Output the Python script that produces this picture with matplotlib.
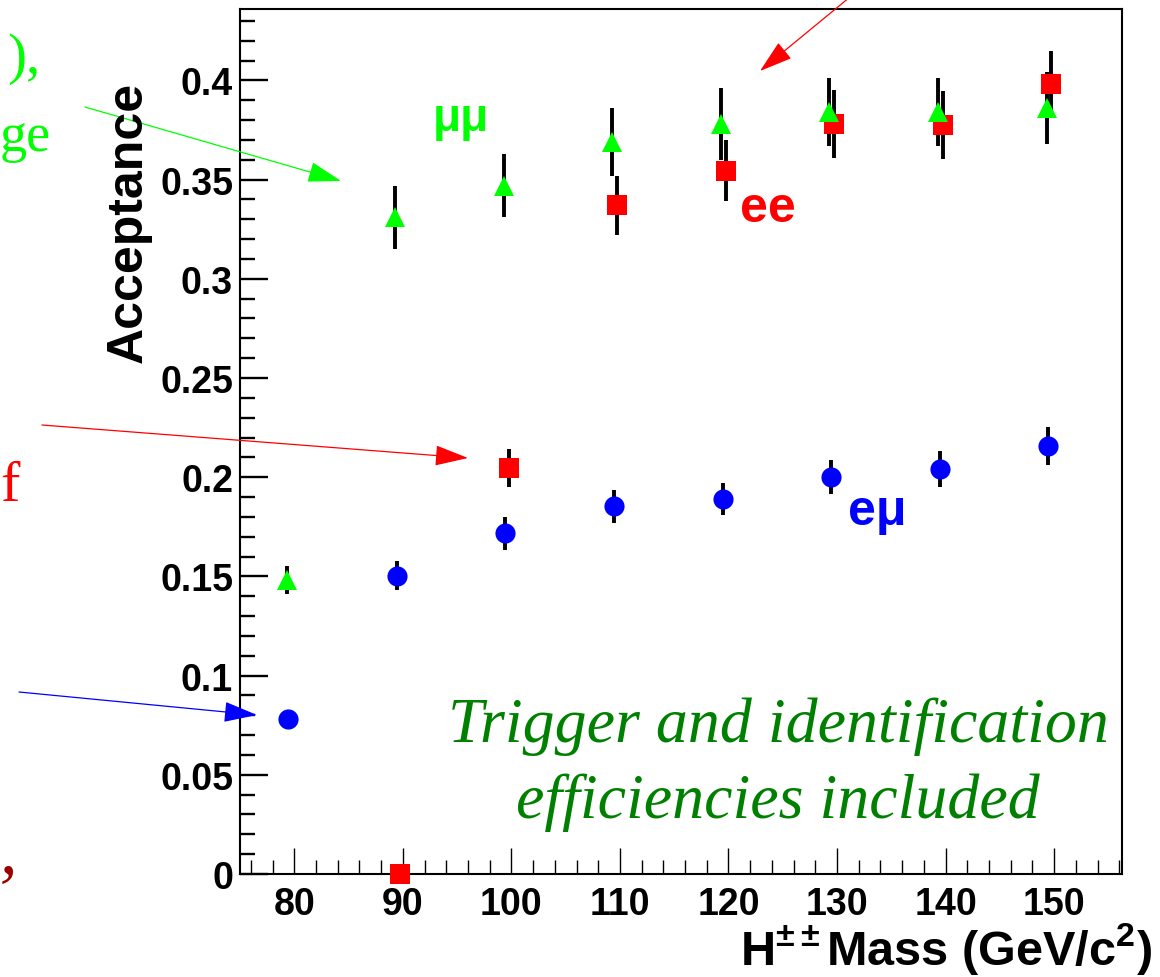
import matplotlib
matplotlib.use('Agg')
import matplotlib.pyplot as plt
from matplotlib.ticker import MultipleLocator, FuncFormatter

# Acceptance vs H++ mass for the three dilepton channels
mass = [80, 90, 100, 110, 120, 130, 140, 150]

acc_mumu = [0.148, 0.331, 0.347, 0.369, 0.378, 0.384, 0.384, 0.386]
err_mumu = [0.007, 0.016, 0.016, 0.017, 0.018, 0.017, 0.017, 0.018]

mass_ee = [90, 100, 110, 120, 130, 140, 150]
acc_ee = [0.0, 0.2045, 0.337, 0.3545, 0.378, 0.3776, 0.398]
err_ee = [0.0, 0.0095, 0.015, 0.0155, 0.017, 0.017, 0.017]

acc_emu = [0.078, 0.1504, 0.1717, 0.1854, 0.189, 0.200, 0.204, 0.2157]
err_emu = [0.004, 0.0073, 0.0084, 0.0083, 0.008, 0.0085, 0.009, 0.0095]

# small horizontal shifts of each channel (as in the original graph)
shift_mumu = -0.7
shift_ee = -0.25
shift_emu = -0.55

plt.rcParams['mathtext.fontset'] = 'custom'
plt.rcParams['mathtext.rm'] = 'Liberation Sans:bold'
plt.rcParams['mathtext.bf'] = 'Liberation Sans:bold'
plt.rcParams['mathtext.it'] = 'Liberation Sans:bold'

W, H = 1160, 978
fig = plt.figure(figsize=(W / 100, H / 100), dpi=100)
ax = fig.add_axes([240 / W, 1 - 875 / H, (1122 - 240) / W, (875 - 10) / H])

x_mumu = [m + shift_mumu for m in mass]
x_ee = [m + shift_ee for m in mass_ee]
x_emu = [m + shift_emu for m in mass]

# error bars first, markers on top
for xs, ys, es in [(x_emu, acc_emu, err_emu), (x_ee, acc_ee, err_ee), (x_mumu, acc_mumu, err_mumu)]:
    ax.errorbar(xs, ys, yerr=es, fmt='none', ecolor='black', elinewidth=2.8, capsize=0, zorder=2)

ax.plot(x_emu, acc_emu, 'o', color='#0000ff', markersize=14.5, mew=0, zorder=3, clip_on=False)
ax.plot(x_ee, acc_ee, 's', color='#ff0000', markersize=14.5, mew=0, zorder=4, clip_on=False)
ax.plot(x_mumu, acc_mumu, '^', color='#00ff00', markersize=14.5, mew=0, zorder=5, clip_on=False)

ax.set_xlim(75, 156.25)
ax.set_ylim(0, 0.436)

ax.xaxis.set_major_locator(MultipleLocator(10))
ax.xaxis.set_minor_locator(MultipleLocator(2))
ax.yaxis.set_major_locator(MultipleLocator(0.05))
ax.yaxis.set_minor_locator(MultipleLocator(0.01))
ax.yaxis.set_major_formatter(FuncFormatter(lambda v, p: f'{v:g}'))

ax.tick_params(axis='both', which='both', direction='in', top=False, right=False)
ax.tick_params(axis='x', which='major', length=18.5, width=1.0, pad=9)
ax.tick_params(axis='x', which='minor', length=10, width=1.0)
ax.tick_params(axis='y', which='major', length=20, width=1.7, pad=5)
ax.tick_params(axis='y', which='minor', length=11, width=1.7)
for lab in ax.get_xticklabels() + ax.get_yticklabels():
    lab.set_fontfamily('Liberation Sans')
    lab.set_fontweight('bold')
    lab.set_fontsize(27)
for sp in ax.spines.values():
    sp.set_linewidth(1.5)

# axis titles
fig.text(129 / W, 1 - 222 / H, 'Acceptance', rotation=90, ha='center', va='center',
         fontfamily='Liberation Sans', fontweight='bold', fontsize=36)
fig.text(1152 / W, 1 - 965 / H, r'H$^{\pm\pm}$Mass (GeV/c$^{2}$)', ha='right', va='baseline',
         fontfamily='Liberation Sans', fontweight='bold', fontsize=35)

# channel labels
fig.text(433 / W, 1 - 131 / H, 'μμ', ha='left', va='baseline', color='#00ff00',
         fontfamily='Liberation Sans', fontweight='bold', fontsize=33)
fig.text(740 / W, 1 - 222 / H, 'ee', ha='left', va='baseline', color='#ff0000',
         fontfamily='Liberation Sans', fontweight='bold', fontsize=36)
fig.text(848 / W, 1 - 525 / H, 'eμ', ha='left', va='baseline', color='#0000ff',
         fontfamily='Liberation Sans', fontweight='bold', fontsize=36)

fig.text(778 / W, 1 - 742 / H, 'Trigger and identification', ha='center', va='baseline',
         color='#008000', fontfamily='Liberation Serif', style='italic', fontsize=46)
fig.text(778 / W, 1 - 818 / H, 'efficiencies included', ha='center', va='baseline',
         color='#008000', fontfamily='Liberation Serif', style='italic', fontsize=46)

# pieces of the slide text that sits left of the plot
fig.text(40 / W, 1 - 73 / H, '),', ha='right', va='baseline', color='#00ff00',
         fontfamily='Liberation Serif', fontsize=41)
fig.text(0, 1 - 151 / H, 'ge', ha='left', va='baseline', color='#00ff00',
         fontfamily='Liberation Serif', fontsize=39)
fig.text(0, 1 - 501 / H, 'f', ha='left', va='baseline', color='#ff0000',
         fontfamily='Liberation Serif', fontsize=42)
fig.text(0, 1 - 872 / H, ',', ha='left', va='baseline', color='#990000',
         fontfamily='Liberation Serif', style='italic', fontsize=50)

# arrows pointing from the slide text into the plot
arrows = [((85, 108), (341, 182), '#00ff00'),
          ((42, 426), (468, 459), '#ff0000'),
          ((19, 693), (257, 716), '#0000ff'),
          ((850, -2), (760, 72), '#ff0000')]
for (x0, y0), (x1, y1), c in arrows:
    ax.annotate('', xy=(x1, H - y1), xytext=(x0, H - y0),
                xycoords='figure pixels', textcoords='figure pixels',
                arrowprops=dict(arrowstyle='-|>,head_length=2.1,head_width=0.65',
                                color=c, lw=0.9, shrinkA=0, shrinkB=0, mutation_scale=10),
                annotation_clip=False)

fig.savefig('out.png', dpi=100)
